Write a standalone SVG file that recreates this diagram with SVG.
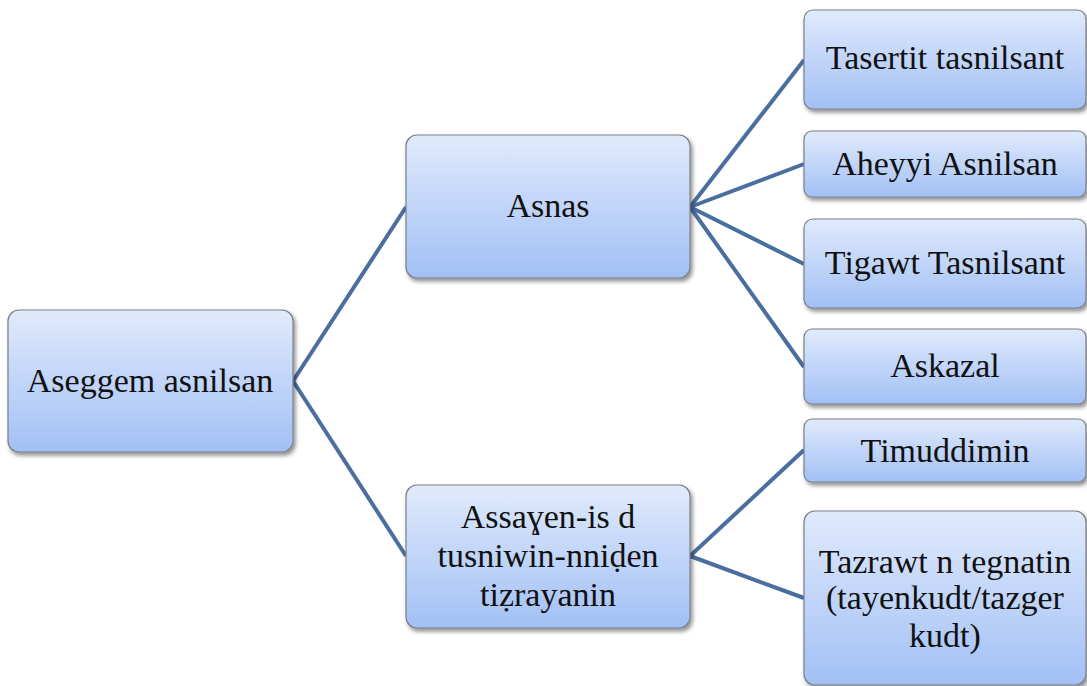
<svg xmlns="http://www.w3.org/2000/svg" width="1087" height="686" viewBox="0 0 1087 686">
<defs>
<linearGradient id="g" x1="0" y1="0" x2="0" y2="1">
<stop offset="0" stop-color="#e0eafc"/>
<stop offset="1" stop-color="#a2c0f5"/>
</linearGradient>
<filter id="sh" x="-10%" y="-10%" width="130%" height="140%">
<feGaussianBlur in="SourceAlpha" stdDeviation="2"/>
<feOffset dx="2" dy="3"/>
<feComponentTransfer><feFuncA type="linear" slope="0.45"/></feComponentTransfer>
<feMerge><feMergeNode/><feMergeNode in="SourceGraphic"/></feMerge>
</filter>
</defs>
<style>
.box{fill:url(#g);stroke:#7a7f88;stroke-width:1.2;filter:url(#sh)}
.c{stroke:#4a6ea0;stroke-width:4;fill:none}
text{font-family:'Liberation Serif',serif !important;font-size:34px;fill:#111;text-anchor:middle}
</style>
<g id="connectors">
<line class="c" x1="293" y1="381" x2="406" y2="207"/>
<line class="c" x1="293" y1="381" x2="406" y2="556"/>
<line class="c" x1="690" y1="207" x2="804" y2="60"/>
<line class="c" x1="690" y1="207" x2="804" y2="164"/>
<line class="c" x1="690" y1="207" x2="804" y2="264"/>
<line class="c" x1="690" y1="207" x2="804" y2="367"/>
<line class="c" x1="690" y1="556" x2="804" y2="450"/>
<line class="c" x1="690" y1="556" x2="804" y2="598"/>
</g>
<g id="root">
<rect class="box" x="8" y="310" width="285" height="142" rx="11"/>
<text x="150" y="392" font-family="Liberation Serif, serif" style="font-family:'Liberation Serif',serif !important">Aseggem asnilsan</text>
</g>
<g id="asnas">
<rect class="box" x="406" y="135" width="284" height="143" rx="11"/>
<text x="548" y="217" font-family="Liberation Serif, serif" style="font-family:'Liberation Serif',serif !important">Asnas</text>
</g>
<g id="assagen">
<rect class="box" x="406" y="485" width="284" height="143" rx="11"/>
<text x="548" y="528" font-family="Liberation Serif, serif" style="font-family:'Liberation Serif',serif !important">Assaɣen-is d</text>
<text x="548" y="567" font-family="Liberation Serif, serif" style="font-family:'Liberation Serif',serif !important">tusniwin-nniḍen</text>
<text x="548" y="606" font-family="Liberation Serif, serif" style="font-family:'Liberation Serif',serif !important">tiẓrayanin</text>
</g>
<g id="tasertit">
<rect class="box" x="804" y="10" width="282" height="99" rx="9"/>
<text x="945" y="69" font-family="Liberation Serif, serif" style="font-family:'Liberation Serif',serif !important">Tasertit tasnilsant</text>
</g>
<g id="aheyyi">
<rect class="box" x="804" y="131" width="282" height="66" rx="8"/>
<text x="945" y="175" font-family="Liberation Serif, serif" style="font-family:'Liberation Serif',serif !important">Aheyyi Asnilsan</text>
</g>
<g id="tigawt">
<rect class="box" x="804" y="219" width="282" height="89" rx="9"/>
<text x="945" y="274" font-family="Liberation Serif, serif" style="font-family:'Liberation Serif',serif !important">Tigawt Tasnilsant</text>
</g>
<g id="askazal">
<rect class="box" x="804" y="329" width="282" height="75" rx="8"/>
<text x="945" y="377" font-family="Liberation Serif, serif" style="font-family:'Liberation Serif',serif !important">Askazal</text>
</g>
<g id="timuddimin">
<rect class="box" x="804" y="419" width="282" height="63" rx="8"/>
<text x="945" y="462" font-family="Liberation Serif, serif" style="font-family:'Liberation Serif',serif !important">Timuddimin</text>
</g>
<g id="tazrawt">
<rect class="box" x="804" y="511" width="282" height="174" rx="11"/>
<text x="945" y="573" font-family="Liberation Serif, serif" style="font-family:'Liberation Serif',serif !important">Tazrawt n tegnatin</text>
<text x="945" y="609" font-family="Liberation Serif, serif" style="font-family:'Liberation Serif',serif !important">(tayenkudt/tazger</text>
<text x="945" y="647" font-family="Liberation Serif, serif" style="font-family:'Liberation Serif',serif !important">kudt)</text>
</g>
</svg>
